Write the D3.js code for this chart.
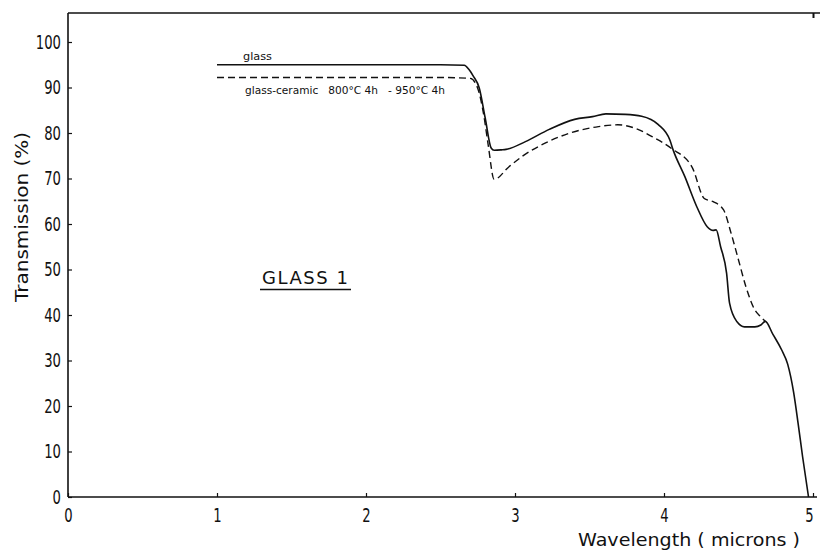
<!DOCTYPE html>
<html>
<head>
<meta charset="utf-8">
<script src="https://cdn.jsdelivr.net/npm/d3@7"></script>
<style>
  html, body { margin: 0; padding: 0; background: #fff; }
  svg { display: block; }
  text { font-family: "DejaVu Sans", "Liberation Sans", sans-serif; fill: #111; }
</style>
</head>
<body>
<svg id="chart" width="820" height="553"></svg>
<script>
// ---- data ----
const xTicks = [0, 1, 2, 3, 4, 5];
const yTicks = [0, 10, 20, 30, 40, 50, 60, 70, 80, 90, 100];
const topTicks = [5];

const glassX = [1.00, 1.50, 2.00, 2.50, 2.66, 2.69, 2.72, 2.76, 2.80, 2.84, 2.86, 2.91, 2.94, 3.07, 3.23, 3.40, 3.52, 3.61, 3.74, 3.85, 3.96, 4.04, 4.06, 4.14, 4.22, 4.29, 4.33, 4.35, 4.38, 4.42, 4.44, 4.49, 4.54, 4.61, 4.65, 4.68, 4.73, 4.79, 4.83, 4.87, 4.90, 4.93, 4.97];
const glassY = [95.0, 95.0, 95.0, 95.0, 94.9, 94.0, 92.5, 89.9, 83.3, 76.7, 76.2, 76.3, 76.4, 78.1, 80.8, 83.0, 83.6, 84.2, 84.1, 83.7, 81.9, 78.4, 76.4, 70.4, 63.8, 59.4, 58.6, 58.7, 55.0, 49.2, 42.6, 38.5, 37.4, 37.4, 37.8, 38.6, 35.8, 32.3, 29.2, 23.0, 16.2, 8.9, 0.0];

const ceramicX = [1.00, 1.50, 2.00, 2.50, 2.70, 2.75, 2.79, 2.82, 2.86, 2.96, 3.05, 3.23, 3.38, 3.56, 3.69, 3.81, 3.92, 4.05, 4.19, 4.27, 4.33, 4.40, 4.45, 4.50, 4.55, 4.61, 4.65, 4.68];
const ceramicY = [92.2, 92.2, 92.2, 92.2, 92.0, 89.8, 84.0, 77.4, 69.8, 72.6, 74.9, 78.2, 80.1, 81.4, 81.8, 81.0, 79.2, 76.6, 72.4, 65.6, 64.9, 63.1, 58.0, 52.1, 46.2, 41.1, 39.6, 38.6];

const seriesNames = ["glass", "glass-ceramic   800\u00B0C 4h   - 950\u00B0C 4h"];
const xLabel = "Wavelength ( microns )";
const yLabel = "Transmission  (%)";
const sampleLabel = "GLASS 1";

// ---- drawing ----
const svg = d3.select("#chart");
const x = d3.scaleLinear().domain([0, 5]).range([68, 813]);
const y = d3.scaleLinear().domain([0, 100]).range([497, 42]);
const yTopVal = y.invert(13);

const frame = svg.append("g").attr("stroke", "#111").attr("fill", "none");
frame.append("line").attr("x1", x(0)).attr("x2", x(0)).attr("y1", y(yTopVal)).attr("y2", y(0)).attr("stroke-width", 1.6);
frame.append("line").attr("x1", x(0)).attr("x2", 817).attr("y1", y(0)).attr("y2", y(0)).attr("stroke-width", 1.6);
frame.append("line").attr("x1", x(0)).attr("x2", 820).attr("y1", y(yTopVal)).attr("y2", y(yTopVal)).attr("stroke-width", 1.4);

// narrow tick digits like the reference's condensed lettering
const narrow = sel => sel.each(function () {
  const n = this.textContent.length;
  d3.select(this).attr("textLength", n * 8.4).attr("lengthAdjust", "spacingAndGlyphs");
});

// y axis (ticks inward, labels left)
const yAxis = d3.axisLeft(y).tickValues(yTicks).tickSizeInner(-4).tickSizeOuter(0).tickPadding(7);
const gy = svg.append("g").attr("transform", `translate(${x(0)},0)`).call(yAxis);
gy.select(".domain").remove();
gy.selectAll(".tick line").attr("stroke", "#111").attr("stroke-width", 1.2);
gy.selectAll(".tick text").attr("font-size", 19).attr("fill", "#111").attr("font-family", null).call(narrow);

// x axis (ticks inward)
const xAxis = d3.axisBottom(x).tickValues(xTicks).tickFormat(d3.format("d")).tickSizeInner(-4).tickSizeOuter(0).tickPadding(11);
const gx = svg.append("g").attr("transform", `translate(0,${y(0)})`).call(xAxis);
gx.select(".domain").remove();
gx.selectAll(".tick line").attr("stroke", "#111").attr("stroke-width", 1.2);
gx.selectAll(".tick text").attr("font-size", 20).attr("fill", "#111").attr("font-family", null).call(narrow);
// keep the last label fully inside the page
gx.selectAll(".tick text").filter(d => d === 5).attr("dx", "-4");

// top ticks
const xTop = d3.axisTop(x).tickValues(topTicks).tickSizeInner(-5).tickSizeOuter(0).tickFormat("");
const gt = svg.append("g").attr("transform", `translate(0,${y(yTopVal)})`).call(xTop);
gt.select(".domain").remove();
gt.selectAll(".tick line").attr("stroke", "#111").attr("stroke-width", 2);

// axis titles
svg.append("text").attr("x", 578).attr("y", 546)
  .attr("font-size", 17).attr("textLength", 222).attr("lengthAdjust", "spacingAndGlyphs").text(xLabel);
svg.append("text").attr("transform", "translate(28,302) rotate(-90)")
  .attr("font-size", 18).attr("textLength", 170).attr("lengthAdjust", "spacingAndGlyphs").text(yLabel);

// curves
const line = d3.line().x(d => x(d[0])).y(d => y(d[1])).curve(d3.curveMonotoneX);
const glass = glassX.map((v, i) => [v, glassY[i]]);
const ceramic = ceramicX.map((v, i) => [v, ceramicY[i]]);

svg.append("path").datum(ceramic).attr("d", line)
  .attr("fill", "none").attr("stroke", "#111").attr("stroke-width", 1.4)
  .attr("stroke-dasharray", "7,4");
svg.append("path").datum(glass).attr("d", line)
  .attr("fill", "none").attr("stroke", "#111").attr("stroke-width", 1.6);

// series labels
svg.append("text").attr("x", 243).attr("y", 60).attr("font-size", 10)
  .attr("textLength", 29).attr("lengthAdjust", "spacingAndGlyphs").text(seriesNames[0]);
svg.append("text").attr("x", 245).attr("y", 94).attr("font-size", 10)
  .attr("xml:space", "preserve").style("white-space", "pre")
  .attr("textLength", 200).attr("lengthAdjust", "spacingAndGlyphs").text(seriesNames[1]);

// sample label
svg.append("text").attr("x", 262).attr("y", 284).attr("font-size", 18)
  .attr("textLength", 86).attr("lengthAdjust", "spacing").text(sampleLabel);
svg.append("line").attr("x1", 260).attr("x2", 351).attr("y1", 289.5).attr("y2", 289.5)
  .attr("stroke", "#111").attr("stroke-width", 1.4);
</script>
</body>
</html>
